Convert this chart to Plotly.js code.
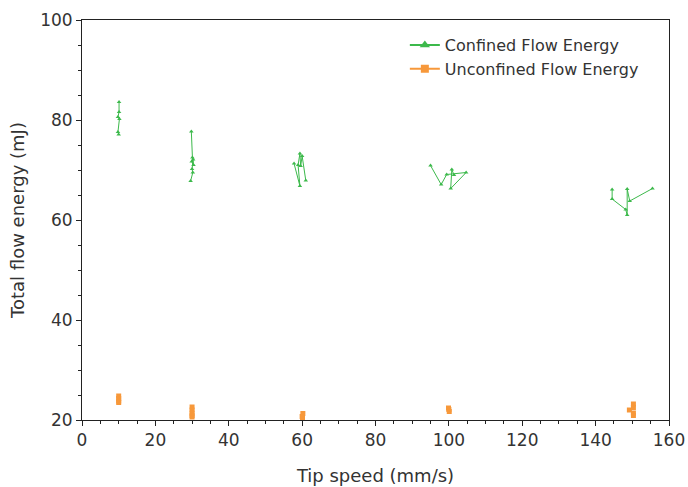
<!DOCTYPE html>
<html>
<head>
<meta charset="utf-8">
<script src="https://cdn.plot.ly/plotly-3.0.1.min.js"></script>
<style>html,body{margin:0;padding:0;background:#fff;}#chart{width:688px;height:487px;}</style>
</head>
<body>
<div id="chart"></div>
<script>
// Confined flow energy (tip speed mm/s, energy mJ); null separates speed groups
const confinedX = [10.1, 10.1, 9.8, 10.2, 9.8, 10.0, null,
                   29.8, 30.1, 30.4, 29.9, 30.3, 30.0, 30.2, 29.6, null,
                   57.8, 59.4, 58.9, 59.4, 59.6, 60.0, 61.0, null,
                   95.0, 97.9, 99.4, 104.7, 100.5, 100.8, 101.4, null,
                   144.5, 144.5, 148.2, 148.6, 148.6, 149.3, 155.5];
const confinedY = [83.6, 81.6, 80.6, 80.2, 77.6, 77.1, null,
                   77.7, 72.5, 71.0, 71.7, 72.1, 70.2, 69.5, 67.8, null,
                   71.3, 66.8, 71.0, 73.3, 70.8, 72.8, 67.9, null,
                   70.9, 67.1, 69.1, 69.5, 66.3, 70.1, 69.0, null,
                   66.1, 64.2, 62.1, 61.0, 66.2, 63.8, 66.3];
// Unconfined flow energy
const unconfinedX = [10.0, 10.0, 10.0, 10.0, null,
                     30.0, 30.0, 30.0, 30.0, 30.0, null,
                     60.2, 60.0, 60.1, null,
                     99.9, 100.1, 100.0, null,
                     150.3, 150.3, 149.2, 150.3, 150.3];
const unconfinedY = [24.8, 24.3, 23.8, 23.5, null,
                     22.6, 22.0, 21.4, 20.9, 20.6, null,
                     21.3, 20.7, 20.4, null,
                     22.4, 21.7, 22.1, null,
                     23.2, 22.5, 22.0, 21.4, 20.9];
const seriesNames = ['Confined Flow Energy', 'Unconfined Flow Energy'];

const green = '#3cb94b';
const orange = '#f7983a';
const traces = [
  {x: confinedX, y: confinedY, name: seriesNames[0], type: 'scatter', mode: 'lines+markers', showlegend: false,
   connectgaps: false, line: {color: green, width: 1}, marker: {symbol: 'triangle-up', size: 4, color: green}},
  {x: unconfinedX, y: unconfinedY, name: seriesNames[1], type: 'scatter', mode: 'lines+markers', showlegend: false,
   connectgaps: false, line: {color: orange, width: 1}, marker: {symbol: 'square', size: 5, color: orange}},
  // legend-only entries with larger symbols
  {x: [null], y: [null], name: seriesNames[0], type: 'scatter', mode: 'lines+markers',
   line: {color: green, width: 2}, marker: {symbol: 'triangle-up', size: 9, color: green}},
  {x: [null], y: [null], name: seriesNames[1], type: 'scatter', mode: 'lines+markers',
   line: {color: orange, width: 2}, marker: {symbol: 'square', size: 8, color: orange}}
];
const fontFam = 'DejaVu Sans, sans-serif';
const axisCommon = {
  showline: true, linecolor: '#222', linewidth: 1, mirror: true,
  ticks: 'outside', ticklen: 5, tickcolor: '#222', showgrid: false, zeroline: false,
  tickfont: {family: fontFam, size: 17, color: '#333'},
  minor: {ticks: 'outside', ticklen: 3, tickcolor: '#222', dtick: 5}
};
const layout = {
  width: 688, height: 487,
  margin: {l: 82, r: 19, t: 20, b: 67},
  paper_bgcolor: '#fff', plot_bgcolor: '#fff',
  showlegend: true,
  legend: {x: 0.55, y: 0.98, xanchor: 'left', yanchor: 'top', bgcolor: 'rgba(0,0,0,0)',
           font: {family: fontFam, size: 16, color: '#333'}, tracegroupgap: 4, itemwidth: 30, entrywidth: 0},
  xaxis: Object.assign({}, axisCommon, {range: [0, 160], dtick: 20, tick0: 0,
    title: {text: 'Tip speed (mm/s)', font: {family: fontFam, size: 18, color: '#333'}, standoff: 19}}),
  yaxis: Object.assign({}, axisCommon, {range: [20, 100], dtick: 20, tick0: 20,
    title: {text: 'Total flow energy (mJ)', font: {family: fontFam, size: 18, color: '#333'}, standoff: 10}})
};
Plotly.newPlot('chart', traces, layout, {displayModeBar: false, staticPlot: true}).then(function(gd){
  // add small extra spacing between legend rows to match reference
});
</script>
</body>
</html>
